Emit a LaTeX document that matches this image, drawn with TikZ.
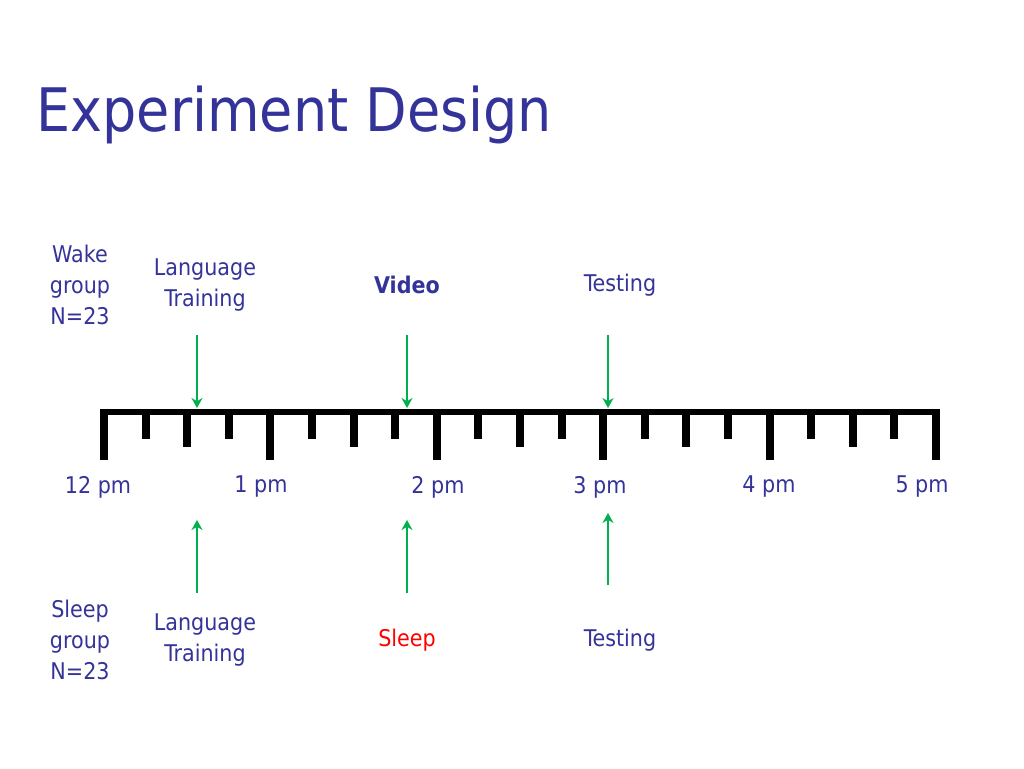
\documentclass[tikz,border=0pt]{standalone}
\usepackage{fontspec}
\setmainfont{DejaVu Sans Condensed}
\usetikzlibrary{arrows.meta}
\definecolor{navy}{HTML}{333399}
\definecolor{grn}{HTML}{00B050}
\begin{document}
\begin{tikzpicture}[x=1pt,y=-1pt,
  lbl/.style={text=navy,font=\fontsize{23}{31}\selectfont,align=center},
  arr/.style={grn,line width=2.2pt,-{Stealth[length=10pt,width=11pt]}},
  tk/.style={line width=8pt}]
\useasboundingbox (0,0) rectangle (1024,768);
\node[anchor=west,text=navy,font=\fontsize{60}{68}\selectfont] (title) at (33,115) {Experiment Design};
% ruler
\fill (100,409) rectangle (940,415);
\foreach \i in {0,...,20}{
  \pgfmathsetmacro{\x}{104+\i*41.6}
  \pgfmathtruncatemacro{\m}{mod(\i,4)}
  \ifnum\m=0 \fill (\x-4,412) rectangle (\x+4,460);
  \else\ifnum\m=2 \fill (\x-4,412) rectangle (\x+4,447);
  \else \fill (\x-4,412) rectangle (\x+4,439);\fi\fi
}
\foreach \t/\x in {12 pm/98,1 pm/261,2 pm/438,3 pm/600,4 pm/769,5 pm/922}
  \node[lbl] at (\x,487) {\t};
\node[lbl] (wg) at (80,285) {Wake\\group\\N=23};
\node[lbl] (wl) at (205,285) {Language\\Training};
\node[lbl,font=\fontsize{23}{31}\selectfont\bfseries] (wv) at (407,285) {Video};
\node[lbl] (wt) at (620,285) {Testing};
\node[lbl] (sg) at (80,640) {Sleep\\group\\N=23};
\node[lbl] (sl) at (205,640) {Language\\Training};
\node[lbl,text=red] (ss) at (407,640) {Sleep};
\node[lbl] (st) at (620,640) {Testing};
\coordinate (a1) at (197,335); \coordinate (b1) at (197,408);
\coordinate (a2) at (407,335); \coordinate (b2) at (407,408);
\coordinate (a3) at (608,335); \coordinate (b3) at (608,408);
\coordinate (c1) at (197,593); \coordinate (d1) at (197,520);
\coordinate (c2) at (407,593); \coordinate (d2) at (407,520);
\coordinate (c3) at (608,585); \coordinate (d3) at (608,513);
\foreach \i in {1,2,3}{\draw[arr] (a\i) -- (b\i); \draw[arr] (c\i) -- (d\i);}
\end{tikzpicture}
\end{document}
